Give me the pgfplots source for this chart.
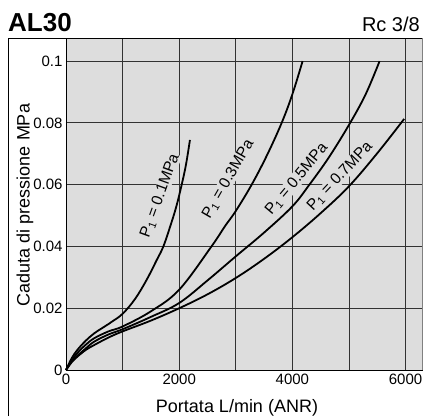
\documentclass[border=0pt]{standalone}
\usepackage{fontspec}
\setmainfont{Liberation Sans}
\usepackage{pgfplots}
\pgfplotsset{compat=1.18}
\definecolor{plotbg}{RGB}{221,221,221}
\definecolor{gridc}{RGB}{50,50,50}

\begin{document}
\begin{tikzpicture}
\begin{axis}[
  scale only axis, width=356pt, height=332pt,
  xmin=0, xmax=6290, ymin=0, ymax=0.1075,
  axis background/.style={fill=plotbg},
  xtick={0,2000,4000,6000}, minor xtick={1000,3000,5000},
  ytick={0,0.02,0.04,0.06,0.08,0.1},
  grid=both,
  major grid style={gridc, line width=0.9pt},
  minor grid style={gridc, line width=0.9pt},
  major tick length=0pt, minor tick length=0pt,
  axis line style={black, line width=0.9pt},
  ticklabel style={font=\fontsize{15}{17}\selectfont},
  /pgf/number format/assume math mode=true,
  xticklabel style={/pgf/number format/1000 sep={}},
  yticklabel style={/pgf/number format/fixed, /pgf/number format/precision=2},
  scaled y ticks=false,
  clip=false,
]
\pgfplotsset{curve/.style={black, line width=1.8pt, smooth, tension=0.6, no marks}}
% P1 = 0.1 MPa
\addplot[curve] coordinates {(0,0) (100,0.0038) (200,0.0065) (350,0.0095) (500,0.0119)
  (650,0.0137) (800,0.0155) (1000,0.0182) (1220,0.0230) (1425,0.0292) (1600,0.0355)
  (1720,0.0400) (1850,0.0470) (1950,0.0530) (2044,0.0600) (2120,0.0665) (2190,0.0745)};
% P1 = 0.3 MPa
\addplot[curve] coordinates {(0,0) (100,0.0030) (200,0.0055) (350,0.0082) (500,0.0103)
  (750,0.0125) (1000,0.0141) (1500,0.0190) (2000,0.0260) (2570,0.0400) (2810,0.0466)
  (3000,0.0515) (3280,0.0600) (3550,0.0695) (3810,0.0800) (4000,0.0893) (4180,0.1000)};
% P1 = 0.5 MPa
\addplot[curve] coordinates {(0,0) (100,0.0027) (200,0.0046) (350,0.0070) (500,0.0092)
  (750,0.0115) (1000,0.0132) (1500,0.0172) (2000,0.0217) (2500,0.0290) (3000,0.0368)
  (3500,0.0445) (4000,0.0530) (4300,0.0600) (4650,0.0690) (5020,0.0800) (5300,0.0895)
  (5540,0.1000)};
% P1 = 0.7 MPa
\addplot[curve] coordinates {(0,0) (100,0.0025) (200,0.0043) (350,0.0065) (500,0.0081)
  (750,0.0105) (1000,0.0125) (1500,0.0160) (2000,0.0200) (2500,0.0245) (3000,0.0298)
  (3500,0.0360) (4000,0.0430) (4500,0.0508) (5000,0.0595) (5500,0.0702) (5975,0.0813)};

\begin{scope}[every node/.style={fill=plotbg, inner sep=0.5pt, font=\fontsize{15.5}{17}\selectfont}]
\node[rotate=70] at (axis cs:1661,0.0564) {P\textsubscript{1} = 0.1MPa};
\node[rotate=60] at (axis cs:2867,0.0618) {P\textsubscript{1} = 0.3MPa};
\node[rotate=50] at (axis cs:4076,0.0618) {P\textsubscript{1} = 0.5MPa};
\node[rotate=47] at (axis cs:4841,0.0628) {P\textsubscript{1} = 0.7MPa};
\end{scope}
\draw[gray, line width=1pt] (rel axis cs:1,0) -- (rel axis cs:1,1);
\end{axis}

% outer frame
\draw[black, line width=0.9pt] (-58pt,-46pt) -- (-58pt,332pt) -- (356pt,332pt);
\node[anchor=base west, inner sep=0pt, font=\bfseries\fontsize{26}{28}\selectfont] at (-58pt,338pt) {AL30};
\node[anchor=base east, inner sep=0pt, font=\fontsize{20}{22}\selectfont] at (354pt,338pt) {Rc 3/8};
\node[rotate=90, inner sep=0pt, font=\fontsize{18}{20}\selectfont] at (-41pt,165pt) {Caduta di pressione MPa};
\node[anchor=base, inner sep=0pt, font=\fontsize{18}{20}\selectfont] at (171pt,-42pt) {Portata L/min (ANR)};

\pgfresetboundingbox
\useasboundingbox (-66pt,-46pt) rectangle (357pt,370pt);
\end{tikzpicture}
\end{document}
